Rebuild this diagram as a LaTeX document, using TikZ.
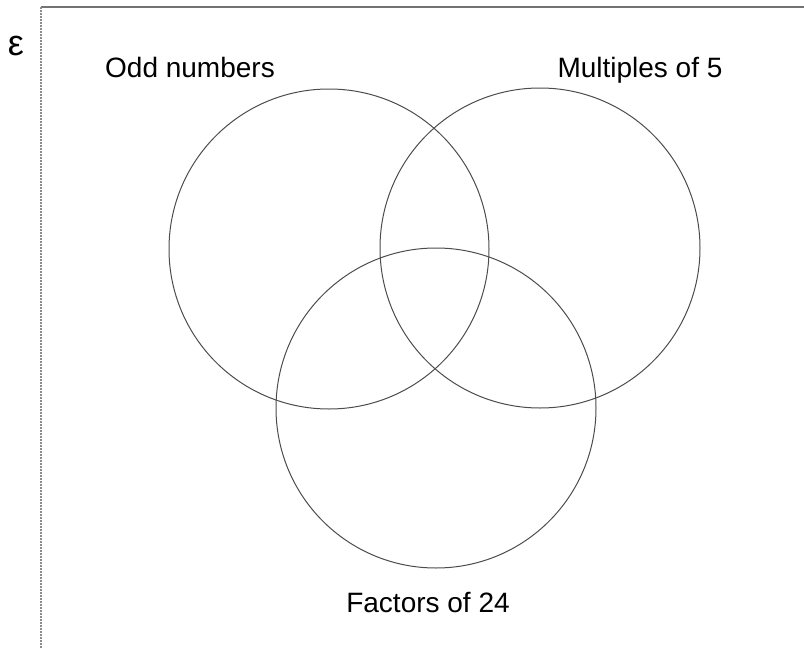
\documentclass[tikz,border=0pt]{standalone}
\usepackage{fontspec}
\setmainfont{Liberation Sans}
\tikzset{
  set/.style={draw=black!70, line width=0.5pt, circle, minimum size=160pt, inner sep=0pt},
  setlabel/.style={font=\fontsize{14}{17}\selectfont, inner sep=0pt, anchor=base}
}
\begin{document}
\begin{tikzpicture}[x=0.5pt,y=-0.5pt]
  \useasboundingbox (0,0) rectangle (804,648);
  % universal set (only top and left edges show)
  \draw[black!55, line width=0.6pt] (804,7) -- (41,7);
  \draw[black!45, line width=0.8pt, dash pattern=on 1pt off 0.5pt] (41,7) -- (41,648);
  \node[setlabel, font=\fontsize{18}{20}\selectfont] (univ) at (16,55) {ε};
  % the three sets
  \node[set] (odd) at (329,249) {};
  \node[set] (mult) at (540,248) {};
  \node[set] (fact) at (436,408) {};
  \node[setlabel] (oddlab) at (190,77) {Odd numbers};
  \node[setlabel] (multlab) at (640,77) {Multiples of 5};
  \node[setlabel] (factlab) at (428,612) {Factors of 24};
\end{tikzpicture}
\end{document}
